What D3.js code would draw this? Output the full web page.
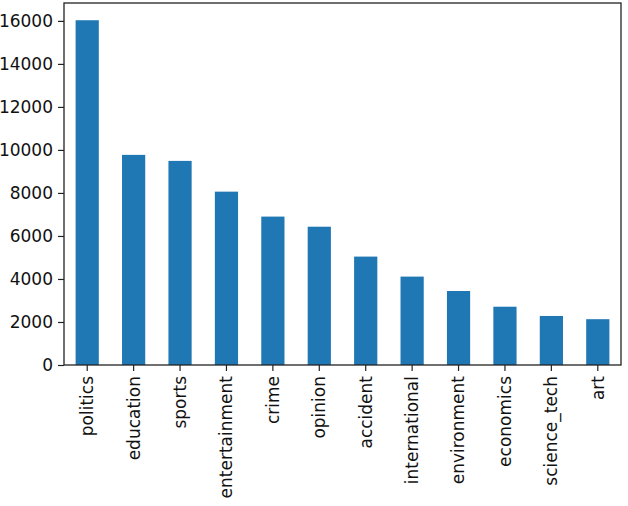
<!DOCTYPE html>
<html>
<head>
<meta charset="utf-8">
<script src="https://cdn.jsdelivr.net/npm/d3@7"></script>
<style>
  body { margin: 0; background: #fff; }
  svg { display: block; }
</style>
</head>
<body>
<div id="chart"></div>
<script>
var categories = ["politics", "education", "sports", "entertainment", "crime", "opinion",
    "accident", "international", "environment", "economics", "science_tech", "art"];
var counts = [16030, 9770, 9490, 8060, 6900, 6430, 5040, 4110, 3440, 2710, 2280, 2130];
var yTicks = [0, 2000, 4000, 6000, 8000, 10000, 12000, 14000, 16000];

var W = 628, H = 506;
var margin = { top: 3, right: 7, bottom: 141, left: 64 };
var width = W - margin.left - margin.right,
    height = H - margin.top - margin.bottom;

var svg = d3.select("#chart").append("svg")
    .attr("width", W)
    .attr("height", H);

var g = svg.append("g")
    .attr("transform", "translate(" + margin.left + "," + margin.top + ")");

// pandas style: each category one unit, bar width 0.5
var x = d3.scaleBand().domain(categories).range([0, width]).paddingInner(0.5).paddingOuter(0.25);
var y = d3.scaleLinear().domain([0, d3.max(counts) * 1.05]).range([height, 0]);

var font = '17px "DejaVu Sans", sans-serif';

g.append("g").attr("class", "bars")
    .selectAll("rect")
    .data(categories)
    .enter().append("rect")
    .attr("x", function (d) { return x(d); })
    .attr("y", function (d, i) { return y(counts[i]); })
    .attr("width", x.bandwidth())
    .attr("height", function (d, i) { return height - y(counts[i]); })
    .style("fill", "#1f77b4");

var yAxis = g.append("g")
    .call(d3.axisLeft(y).tickValues(yTicks).tickSize(6).tickPadding(5).tickFormat(d3.format("d")));
yAxis.select(".domain").remove();
yAxis.selectAll("text").style("font", font).style("fill", "#111");
yAxis.selectAll("line").style("stroke", "#222").style("stroke-width", 1.2);

var xAxis = g.append("g")
    .attr("transform", "translate(0," + height + ")")
    .call(d3.axisBottom(x).tickSize(6).tickPadding(5));
xAxis.select(".domain").remove();
xAxis.selectAll("line").style("stroke", "#222").style("stroke-width", 1.2);
xAxis.selectAll("text")
    .style("font", font)
    .style("fill", "#111")
    .attr("transform", "rotate(-90)")
    .attr("x", -11)
    .attr("y", 0)
    .attr("dy", "0.35em")
    .style("text-anchor", "end");

// frame
g.append("rect")
    .attr("width", width)
    .attr("height", height)
    .style("fill", "none")
    .style("stroke", "#222")
    .style("stroke-width", 1.3);
</script>
</body>
</html>
